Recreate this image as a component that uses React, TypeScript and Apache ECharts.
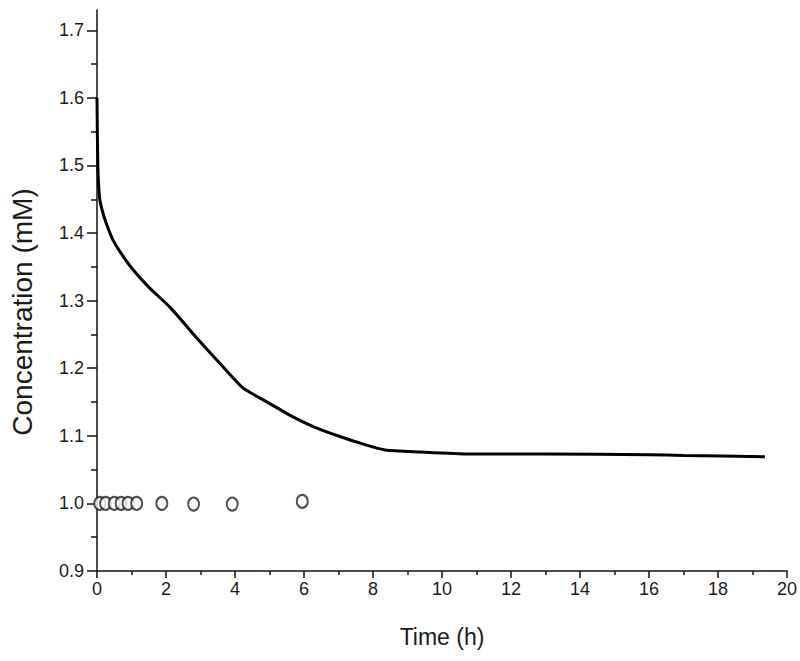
import React, { useEffect, useRef } from "react";
import * as echarts from "echarts";

const curveTime = [0, 0.01, 0.03, 0.08, 0.17, 0.3, 0.46, 0.7, 1.04, 1.5, 2.12, 2.99, 3.6, 4.23, 5.0, 5.68, 6.3, 7.04, 7.7, 8.35, 9.36, 10.8, 13, 16.0, 17, 19.36];
const curveConc = [1.6, 1.55, 1.49, 1.45, 1.43, 1.41, 1.39, 1.37, 1.346, 1.32, 1.29, 1.239, 1.205, 1.171, 1.148, 1.128, 1.113, 1.099, 1.088, 1.079, 1.076, 1.073, 1.073, 1.072, 1.071, 1.069];

const obsTime = [0.08, 0.25, 0.5, 0.7, 0.9, 1.15, 1.88, 2.8, 3.92, 5.95];
const obsConc = [1.0, 1.0, 1.0, 1.0, 1.0, 1.0, 1.0, 0.999, 0.999, 1.003];

const yMajor = [0.9, 1.0, 1.1, 1.2, 1.3, 1.4, 1.5, 1.6, 1.7];
const yMinor = [0.95, 1.05, 1.15, 1.25, 1.35, 1.45, 1.55, 1.65];

const xTitle = "Time (h)";
const yTitle = "Concentration (mM)";

const FONT = "Liberation Sans, Arial, sans-serif";

export default function App() {
  const ref = useRef<HTMLDivElement>(null);
  useEffect(() => {
    if (!ref.current) return;
    const chart = echarts.init(ref.current, null, { renderer: "svg" });
    const axisColor = "#111";
    chart.setOption({
      animation: false,
      backgroundColor: "#fff",
      grid: { left: 97, right: 13, top: 10, bottom: 90, containLabel: false, outerBoundsMode: "none" },
      graphic: [
        {
          type: "text",
          x: 22,
          y: 312,
          rotation: Math.PI / 2,
          style: {
            text: yTitle,
            fontFamily: FONT,
            fontSize: 28,
            fill: "#1a1a1a",
            align: "center",
            verticalAlign: "middle",
          },
        },
      ],
      xAxis: {
        type: "value",
        min: 0,
        max: 20,
        interval: 2,
        name: xTitle,
        nameLocation: "middle",
        nameGap: 54,
        nameTextStyle: { fontFamily: FONT, fontSize: 23, color: "#1a1a1a" },
        axisLine: { show: true, onZero: false, lineStyle: { color: axisColor, width: 1.5 } },
        axisTick: { show: true, inside: false, length: 7, lineStyle: { color: axisColor, width: 1.5 } },
        minorTick: { show: true, splitNumber: 2, length: 4, lineStyle: { color: axisColor, width: 1.5 } },
        axisLabel: { fontFamily: FONT, fontSize: 18, color: "#1a1a1a", margin: 9 },
        splitLine: { show: false },
      },
      yAxis: [
        {
          type: "value",
          min: 0.9,
          max: 1.73,
          interval: 0.1,
          axisLine: { show: true, onZero: false, lineStyle: { color: axisColor, width: 1.5 } },
          axisTick: { show: true, inside: false, length: 10, customValues: yMajor, lineStyle: { color: axisColor, width: 1.5 } },
          axisLabel: {
            fontFamily: FONT,
            fontSize: 18,
            color: "#1a1a1a",
            margin: 13,
            customValues: yMajor,
            formatter: (v: number) => v.toFixed(1),
          },
          splitLine: { show: false },
        },
        {
          type: "value",
          min: 0.9,
          max: 1.73,
          position: "left",
          axisLine: { show: false },
          axisTick: { show: true, inside: false, length: 6, customValues: yMinor, lineStyle: { color: axisColor, width: 1.5 } },
          axisLabel: { show: false },
          splitLine: { show: false },
        },
      ],
      series: [
        {
          type: "line",
          data: curveTime.map((t, i) => [t, curveConc[i]]),
          showSymbol: false,
          smooth: 0.2,
          lineStyle: { color: "#000", width: 3 },
          z: 3,
        },
        {
          type: "scatter",
          yAxisIndex: 0,
          data: obsTime.map((t, i) => [t, obsConc[i]]),
          symbol: "emptyCircle",
          symbolSize: [11, 13],
          itemStyle: { color: "#222", borderColor: "#222", borderWidth: 1.5 },
          z: 4,
        },
      ],
    });
    return () => chart.dispose();
  }, []);
  return <div ref={ref} style={{ position: "absolute", left: 0, top: 0, width: 800, height: 661 }} />;
}
